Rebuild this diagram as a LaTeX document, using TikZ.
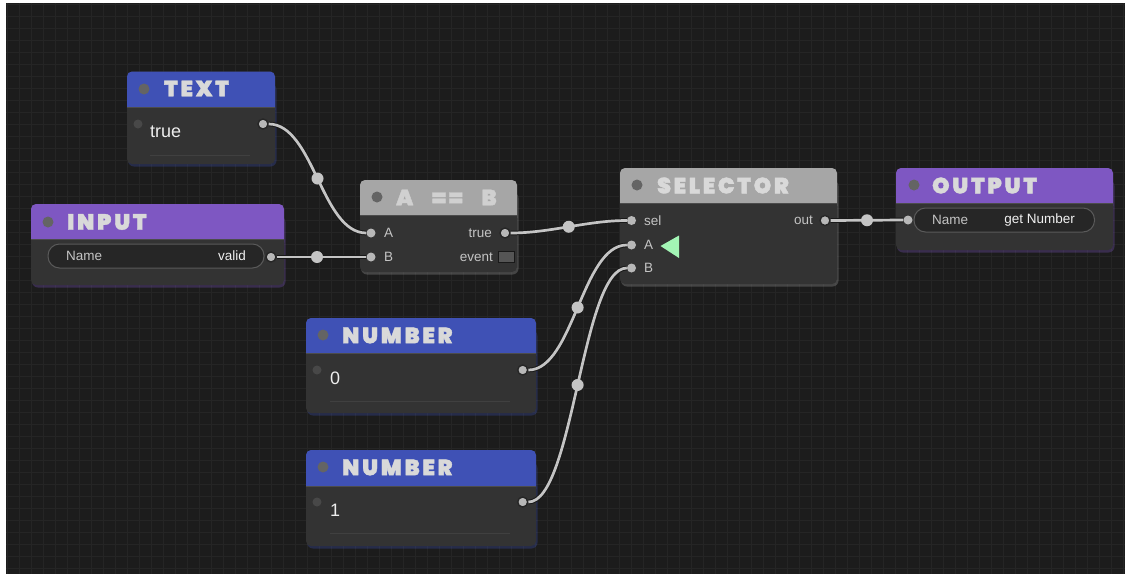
\documentclass[tikz,border=0pt]{standalone}
\usepackage{fontspec}
\setmainfont{Liberation Sans}
\newfontfamily\titlefont{Poppins Black}[LetterSpace=13, FakeBold=1.8]
\definecolor{bg}{HTML}{1C1C1C}
\definecolor{gridc}{HTML}{252525}
\definecolor{bodyc}{HTML}{333333}
\definecolor{hblue}{HTML}{3F51B5}
\definecolor{hpurple}{HTML}{7E57C2}
\definecolor{hgray}{HTML}{A6A6A6}
\definecolor{ttl}{HTML}{D9D9D9}
\definecolor{ttlg}{HTML}{D0D0D0}
\definecolor{wirec}{HTML}{C4C4C4}
\definecolor{portc}{HTML}{B8B8B8}
\definecolor{portdark}{HTML}{484848}
\definecolor{lbl}{HTML}{C4C4C4}
\definecolor{valc}{HTML}{EEEEEE}
\definecolor{mint}{HTML}{A3F5B5}
\definecolor{pillc}{HTML}{262626}
\definecolor{pillb}{HTML}{5A5A5A}
\definecolor{hdot}{HTML}{646464}
\definecolor{evbox}{HTML}{555555}
\tikzset{
  outport/.style={circle, fill=portc, draw=black!85, line width=1.4pt, inner sep=0pt, minimum size=10pt},
  inport/.style={circle, fill=portc, inner sep=0pt, minimum size=9pt},
  deadport/.style={circle, fill=portdark, inner sep=0pt, minimum size=9pt},
  headdot/.style={circle, fill=hdot, inner sep=0pt, minimum size=11pt},
  title/.style={anchor=west, inner sep=0pt, text=ttl, font=\titlefont\fontsize{22}{22}\selectfont},
  plabel/.style={inner sep=0pt, text=lbl, font=\fontsize{13.5}{14}\selectfont},
  value/.style={anchor=base west, inner sep=0pt, text=valc, font=\fontsize{18}{19}\selectfont},
  wire/.style={draw=wirec, line width=2.7pt, preaction={draw=black!90, line width=4.7pt}},
  middot/.style={circle, fill=wirec, inner sep=0pt, minimum size=12pt},
  pill/.style={draw=pillb, fill=pillc, line width=1pt, rounded corners=11.5pt},
  uline/.style={draw=black!75, line width=1pt},
}
% card: x1,y1,x2,yh,y2,color
\newcommand\mycard[6]{%
  \fill[#6, opacity=0.3, rounded corners=6pt] (#1+1,#2+12) rectangle (#3+1.5,#5+2.5);
  \fill[bodyc, rounded corners=5pt] (#1,#2) rectangle (#3,#5);
  \fill[#6, rounded corners=5pt] (#1,#2) rectangle (#3,#4+8);
  \fill[bodyc] (#1,#4) rectangle (#3,#4+9);
  \draw[black!70, line width=1pt] (#1,#4) -- (#3,#4);
}
\begin{document}
\begin{tikzpicture}[x=1pt, y=-1pt]
\useasboundingbox (0,0) rectangle (1127,574);
\fill[white] (0,0) rectangle (1127,574);
\fill[bg] (6,3) rectangle (1125,574);
\foreach \i in {0,...,93} {\draw[gridc, line width=0.8pt] (7+12*\i,3) -- (7+12*\i,574);}
\foreach \j in {0,...,47} {\draw[gridc, line width=0.8pt] (6,4.5+12*\j) -- (1125,4.5+12*\j);}

% ---------- cards ----------
\mycard{127}{71.5}{275}{107}{164}{hblue}
\mycard{31}{204}{284}{239.5}{285}{hpurple}
\mycard{360}{180}{517}{215}{272}{hgray}
\mycard{620}{168}{837}{203}{284}{hgray}
\mycard{896}{168}{1113}{203}{250}{hpurple}
\mycard{306}{318}{536}{353}{413}{hblue}
\mycard{306}{450}{536}{486}{546}{hblue}

% ---------- TEXT ----------
\node[headdot] (tdot) at (144,89) {};
\node[title] (ttitle) at (164,88.5) {TEXT};
\node[deadport] (tin) at (138,124) {};
\node[value] (tval) at (150,137) {true};
\draw[uline] (150,155) -- (250,155);
\node[outport] (tout) at (263,124) {};

% ---------- INPUT ----------
\node[headdot] (idot) at (48,222) {};
\node[title] (ititle) at (67,222) {INPUT};
\draw[pill] (48,244) rectangle (264,268);
\node[plabel, anchor=west] (iname) at (66,256) {Name};
\node[plabel, anchor=east, text=valc!90] (ival) at (246,256) {valid};
\node[outport] (iout) at (271,257) {};

% ---------- A == B ----------
\node[headdot] (edot) at (377,197) {};
\node[title, text=ttlg] (etitle) at (396,197.5) {A\hskip19pt==\hskip19pt B};
\node[inport] (eA) at (371,233) {};
\node[inport] (eB) at (371,257) {};
\node[plabel, anchor=west] (eAl) at (384,233) {A};
\node[plabel, anchor=west] (eBl) at (384,257) {B};
\node[outport] (etrue) at (505,233) {};
\node[plabel, anchor=east] (etl) at (492,233) {true};
\node[plabel, anchor=east] (eel) at (493,257) {event};
\node[draw=black!90, fill=evbox, line width=1pt, minimum width=16pt, minimum height=11pt, inner sep=0pt] (ebox) at (506.5,257) {};

% ---------- SELECTOR ----------
\node[headdot] (sdot) at (637,185) {};
\node[title] (stitle) at (657,185.5) {SELECTOR};
\node[inport] (ssel) at (631.5,220.5) {};
\node[inport] (sA) at (631.5,245) {};
\node[inport] (sB) at (631.5,268) {};
\node[plabel, anchor=west] (ssell) at (644,220.5) {sel};
\node[plabel, anchor=west] (sAl) at (644,245) {A};
\node[plabel, anchor=west] (sBl) at (644,268) {B};
\fill[mint] (660.5,246) -- (679,235.5) -- (679,258) -- cycle;
\node[plabel, anchor=east] (soutl) at (813,220.5) {out};
\node[outport] (sout) at (825,220.5) {};

% ---------- OUTPUT ----------
\node[headdot] (odot) at (914,185) {};
\node[title] (otitle) at (932,185.5) {OUTPUT};
\node[inport] (oin) at (908,220) {};
\draw[pill] (914,208) rectangle (1094.5,232);
\node[plabel, anchor=west] (oname) at (932,220) {Name};
\node[plabel, anchor=east, text=valc!90] (oval) at (1075,220) {get Number};

% ---------- NUMBER 0 ----------
\node[headdot] (n0dot) at (323,335) {};
\node[title] (n0title) at (342,335.5) {NUMBER};
\node[deadport] (n0in) at (317,370) {};
\node[value] (n0val) at (330,384) {0};
\draw[uline] (330,401) -- (510,401);
\node[outport] (n0out) at (522.7,370) {};

% ---------- NUMBER 1 ----------
\node[headdot] (n1dot) at (323,467) {};
\node[title] (n1title) at (342,467.5) {NUMBER};
\node[deadport] (n1in) at (317,502) {};
\node[value] (n1val) at (330,516) {1};
\draw[uline] (330,533) -- (510,533);
\node[outport] (n1out) at (522.7,502) {};

% ---------- connectors ----------
\draw[wire] (tout.east) .. controls +(45,0) and +(-45,0) .. (eA.west) node[middot, pos=0.5] (m1) {};
\draw[wire] (iout.east) -- (eB.west) node[middot, pos=0.45] (m2) {};
\draw[wire] (etrue.east) .. controls +(40,0) and +(-40,0) .. (ssel.west) node[middot, pos=0.5] (m3) {};
\draw[wire] (sout.east) -- (oin.west) node[middot, pos=0.5] (m4) {};
\draw[wire] (n0out.east) .. controls +(45,0) and +(-45,0) .. (sA.west) node[middot, pos=0.5] (m5) {};
\draw[wire] (n1out.east) .. controls +(45,0) and +(-45,0) .. (sB.west) node[middot, pos=0.5] (m6) {};
\end{tikzpicture}
\end{document}
